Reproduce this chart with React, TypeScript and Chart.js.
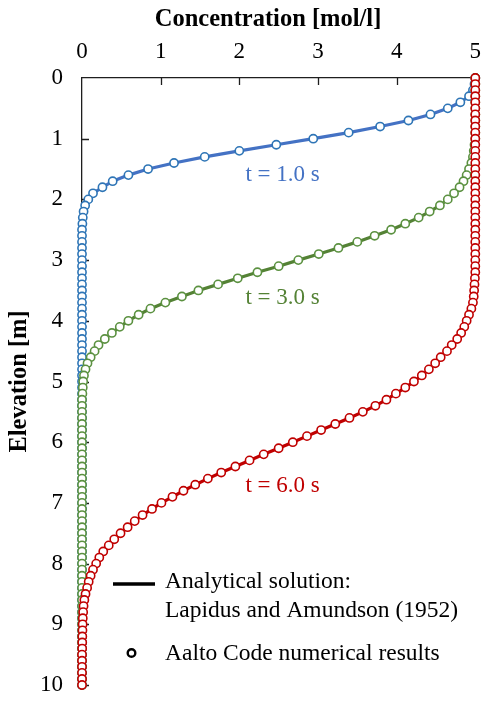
import React, { useEffect, useRef } from 'react';
import { Chart, registerables } from 'chart.js';

Chart.register(...registerables);

// Elevation [m] of every computed point (top to bottom)
const elevation = [
  0, 0.1, 0.2, 0.3, 0.4, 0.5, 0.6, 0.7, 0.8, 0.9,
  1, 1.1, 1.2, 1.3, 1.4, 1.5, 1.6, 1.7, 1.8, 1.9,
  2, 2.1, 2.2, 2.3, 2.4, 2.5, 2.6, 2.7, 2.8, 2.9,
  3, 3.1, 3.2, 3.3, 3.4, 3.5, 3.6, 3.7, 3.8, 3.9,
  4, 4.1, 4.2, 4.3, 4.4, 4.5, 4.6, 4.7, 4.8, 4.9,
  5, 5.1, 5.2, 5.3, 5.4, 5.5, 5.6, 5.7, 5.8, 5.9,
  6, 6.1, 6.2, 6.3, 6.4, 6.5, 6.6, 6.7, 6.8, 6.9,
  7, 7.1, 7.2, 7.3, 7.4, 7.5, 7.6, 7.7, 7.8, 7.9,
  8, 8.1, 8.2, 8.3, 8.4, 8.5, 8.6, 8.7, 8.8, 8.9,
  9, 9.1, 9.2, 9.3, 9.4, 9.5, 9.6, 9.7, 9.8, 9.9,
  10,
];

// Concentration [mol/l] at t = 1.0 s
const concT1 = [
  5.0, 4.99, 4.97, 4.92, 4.81, 4.65, 4.43, 4.15, 3.79, 3.39,
  2.94, 2.47, 2.0, 1.56, 1.17, 0.84, 0.59, 0.39, 0.26, 0.14,
  0.08, 0.04, 0.02, 0.01, 0.005, 0, 0, 0, 0, 0,
  0, 0, 0, 0, 0, 0, 0, 0, 0, 0,
  0, 0, 0, 0, 0, 0, 0, 0, 0, 0,
  0, 0, 0, 0, 0, 0, 0, 0, 0, 0,
  0, 0, 0, 0, 0, 0, 0, 0, 0, 0,
  0, 0, 0, 0, 0, 0, 0, 0, 0, 0,
  0, 0, 0, 0, 0, 0, 0, 0, 0, 0,
  0, 0, 0, 0, 0, 0, 0, 0, 0, 0,
  0,
];

// Concentration [mol/l] at t = 3.0 s
const concT3 = [
  5.0, 5.0, 5.0, 5.0, 5.0, 5.0, 5.0, 5.0, 5.0, 5.0,
  5.0, 4.99, 4.98, 4.97, 4.95, 4.92, 4.89, 4.85, 4.8, 4.73,
  4.65, 4.55, 4.42, 4.28, 4.11, 3.93, 3.72, 3.5, 3.26, 3.01,
  2.75, 2.5, 2.23, 1.98, 1.73, 1.48, 1.27, 1.06, 0.87, 0.72,
  0.59, 0.48, 0.38, 0.29, 0.21, 0.16, 0.11, 0.07, 0.045, 0.025,
  0.015, 0.01, 0.005, 0, 0, 0, 0, 0, 0, 0,
  0, 0, 0, 0, 0, 0, 0, 0, 0, 0,
  0, 0, 0, 0, 0, 0, 0, 0, 0, 0,
  0, 0, 0, 0, 0, 0, 0, 0, 0, 0,
  0, 0, 0, 0, 0, 0, 0, 0, 0, 0,
  0,
];

// Concentration [mol/l] at t = 6.0 s
const concT6 = [
  5.0, 5.0, 5.0, 5.0, 5.0, 5.0, 5.0, 5.0, 5.0, 5.0,
  5.0, 5.0, 5.0, 5.0, 5.0, 5.0, 5.0, 5.0, 5.0, 5.0,
  5.0, 5.0, 5.0, 5.0, 5.0, 5.0, 5.0, 5.0, 5.0, 5.0,
  5.0, 5.0, 5.0, 4.995, 4.99, 4.985, 4.98, 4.97, 4.95, 4.92,
  4.89, 4.86, 4.82, 4.77, 4.7, 4.64, 4.56, 4.49, 4.41, 4.32,
  4.22, 4.11, 3.99, 3.87, 3.73, 3.57, 3.4, 3.22, 3.04, 2.86,
  2.68, 2.5, 2.31, 2.13, 1.95, 1.77, 1.6, 1.44, 1.29, 1.15,
  1.01, 0.89, 0.77, 0.67, 0.58, 0.49, 0.41, 0.34, 0.27, 0.22,
  0.18, 0.14, 0.11, 0.085, 0.065, 0.045, 0.03, 0.02, 0.015, 0.01,
  0.008, 0.006, 0.004, 0.003, 0.002, 0, 0, 0, 0, 0,
  0,
];

const seriesNames = ['t = 1.0 s', 't = 3.0 s', 't = 6.0 s'];
// label anchor (concentration, elevation of text baseline)
const seriesLabelX = [2.55, 2.55, 2.55];
const seriesLabelY = [1.69, 3.72, 6.82];

const xTickValues = [0, 1, 2, 3, 4, 5];
const yTickValues = [0, 1, 2, 3, 4, 5, 6, 7, 8, 9, 10];

const xTitle = 'Concentration [mol/l]';
const yTitle = 'Elevation [m]';
const legendLine1 = 'Analytical solution:';
const legendLine2 = 'Lapidus and Amundson (1952)';
const legendPoints = 'Aalto Code numerical results';

const FONT = '"Liberation Serif", "Times New Roman", Times, serif';
const FS = 23;
const FS_LEGEND = 23.5;
const FS_TITLE = 24.5;
const AXIS_COLOR = '#1e1e1e';
const lineColors = ['#4472C4', '#548235', '#C00000'];
const pointColors = ['#2E75B6', '#5B9140', '#C00000'];
const textColors = ['#4472C4', '#548235', '#C00000'];

const toXY = (conc: number[]) => elevation.map((e, i) => ({ x: conc[i], y: e }));

const decorPlugin = {
  id: 'decor',
  beforeDatasetsDraw(chart: any) {
    const { ctx, chartArea, scales } = chart;
    ctx.save();
    ctx.strokeStyle = AXIS_COLOR;
    ctx.lineWidth = 1.3;
    ctx.beginPath();
    xTickValues.slice(1, -1).forEach((v) => {
      const px = Math.round(scales.x.getPixelForValue(v)) + 0.5;
      ctx.moveTo(px, chartArea.top);
      ctx.lineTo(px, chartArea.top + 7);
    });
    yTickValues.slice(1).forEach((v) => {
      const py = Math.round(scales.y.getPixelForValue(v)) + 0.5;
      ctx.moveTo(chartArea.left, py);
      ctx.lineTo(chartArea.left + 7, py);
    });
    ctx.stroke();

    // x axis title (top)
    ctx.fillStyle = '#000';
    ctx.font = `bold ${FS_TITLE}px ${FONT}`;
    ctx.textAlign = 'center';
    ctx.textBaseline = 'alphabetic';
    ctx.fillText(xTitle, chartArea.left + 186, chartArea.top - 52);
    ctx.restore();
  },
  afterDatasetsDraw(chart: any) {
    const { ctx, chartArea, scales } = chart;
    ctx.save();
    ctx.font = `${FS}px ${FONT}`;
    ctx.textAlign = 'center';
    ctx.textBaseline = 'alphabetic';
    seriesNames.forEach((name, i) => {
      ctx.fillStyle = textColors[i];
      ctx.fillText(
        name,
        scales.x.getPixelForValue(seriesLabelX[i]),
        scales.y.getPixelForValue(seriesLabelY[i])
      );
    });

    // legend
    const lx = chartArea.left;
    const ly = chartArea.top;
    ctx.strokeStyle = '#000';
    ctx.lineWidth = 3.5;
    ctx.beginPath();
    ctx.moveTo(lx + 31, ly + 506);
    ctx.lineTo(lx + 73, ly + 506);
    ctx.stroke();

    ctx.lineWidth = 2.4;
    ctx.beginPath();
    ctx.arc(lx + 49.5, ly + 575, 3.8, 0, Math.PI * 2);
    ctx.stroke();

    ctx.font = `${FS_LEGEND}px ${FONT}`;
    ctx.fillStyle = '#000';
    ctx.textAlign = 'left';
    ctx.fillText(legendLine1, lx + 83, ly + 510);
    ctx.fillText(legendLine2, lx + 83, ly + 538.5);
    ctx.fillText(legendPoints, lx + 83, ly + 582);
    ctx.restore();
  },
};

export default function App() {
  const canvasRef = useRef<HTMLCanvasElement | null>(null);

  useEffect(() => {
    const canvas = canvasRef.current;
    if (!canvas) return;
    const series = [concT1, concT3, concT6];
    const datasets: any[] = [];
    series.forEach((conc, i) => {
      datasets.push({
        label: seriesNames[i] + ' analytical',
        data: toXY(conc),
        showLine: true,
        borderColor: lineColors[i],
        borderWidth: 3.2,
        pointRadius: 0,
        tension: 0,
        clip: false,
        order: 6 - i * 2,
      });
      datasets.push({
        label: seriesNames[i] + ' numerical',
        data: toXY(conc),
        showLine: false,
        borderColor: pointColors[i],
        backgroundColor: '#ffffff',
        pointRadius: 4.1,
        pointBorderWidth: 1.6,
        pointBackgroundColor: '#ffffff',
        pointBorderColor: pointColors[i],
        clip: false,
        order: 5 - i * 2,
      });
    });

    const chart = new Chart(canvas, {
      type: 'scatter',
      data: { datasets },
      plugins: [decorPlugin],
      options: {
        animation: false,
        responsive: false,
        devicePixelRatio: 1,
        layout: { padding: { left: 0, top: 0, right: 5, bottom: 19 } },
        plugins: { legend: { display: false }, tooltip: { enabled: false } },
        scales: {
          x: {
            type: 'linear',
            position: 'top',
            min: 0,
            max: 5,
            afterFit: (scale: any) => {
              scale.height = 78;
              scale.paddingLeft = 0;
              scale.paddingRight = 0;
            },
            ticks: {
              stepSize: 1,
              padding: 12,
              color: '#000',
              font: { family: FONT, size: FS },
            },
            grid: { display: false, drawTicks: false },
            border: { display: true, color: AXIS_COLOR, width: 1.3 },
            title: { display: false },
          },
          y: {
            type: 'linear',
            position: 'left',
            reverse: true,
            min: 0,
            max: 10,
            afterFit: (scale: any) => {
              scale.width = 82;
              scale.paddingTop = 0;
              scale.paddingBottom = 0;
            },
            ticks: {
              stepSize: 1,
              padding: 19,
              color: '#000',
              font: { family: FONT, size: FS },
            },
            grid: { display: false, drawTicks: false },
            border: { display: true, color: AXIS_COLOR, width: 1.3 },
            title: {
              display: true,
              text: yTitle,
              color: '#000',
              font: { family: FONT, size: FS_TITLE, weight: 'bold' },
              padding: { top: 5, bottom: 0 },
            },
          },
        },
      } as any,
    });
    return () => chart.destroy();
  }, []);

  return (
    <div style={{ position: 'absolute', left: 0, top: 0, width: 481, height: 704, background: '#fff' }}>
      <canvas ref={canvasRef} width={481} height={704} style={{ display: 'block', width: 481, height: 704 }} />
    </div>
  );
}
